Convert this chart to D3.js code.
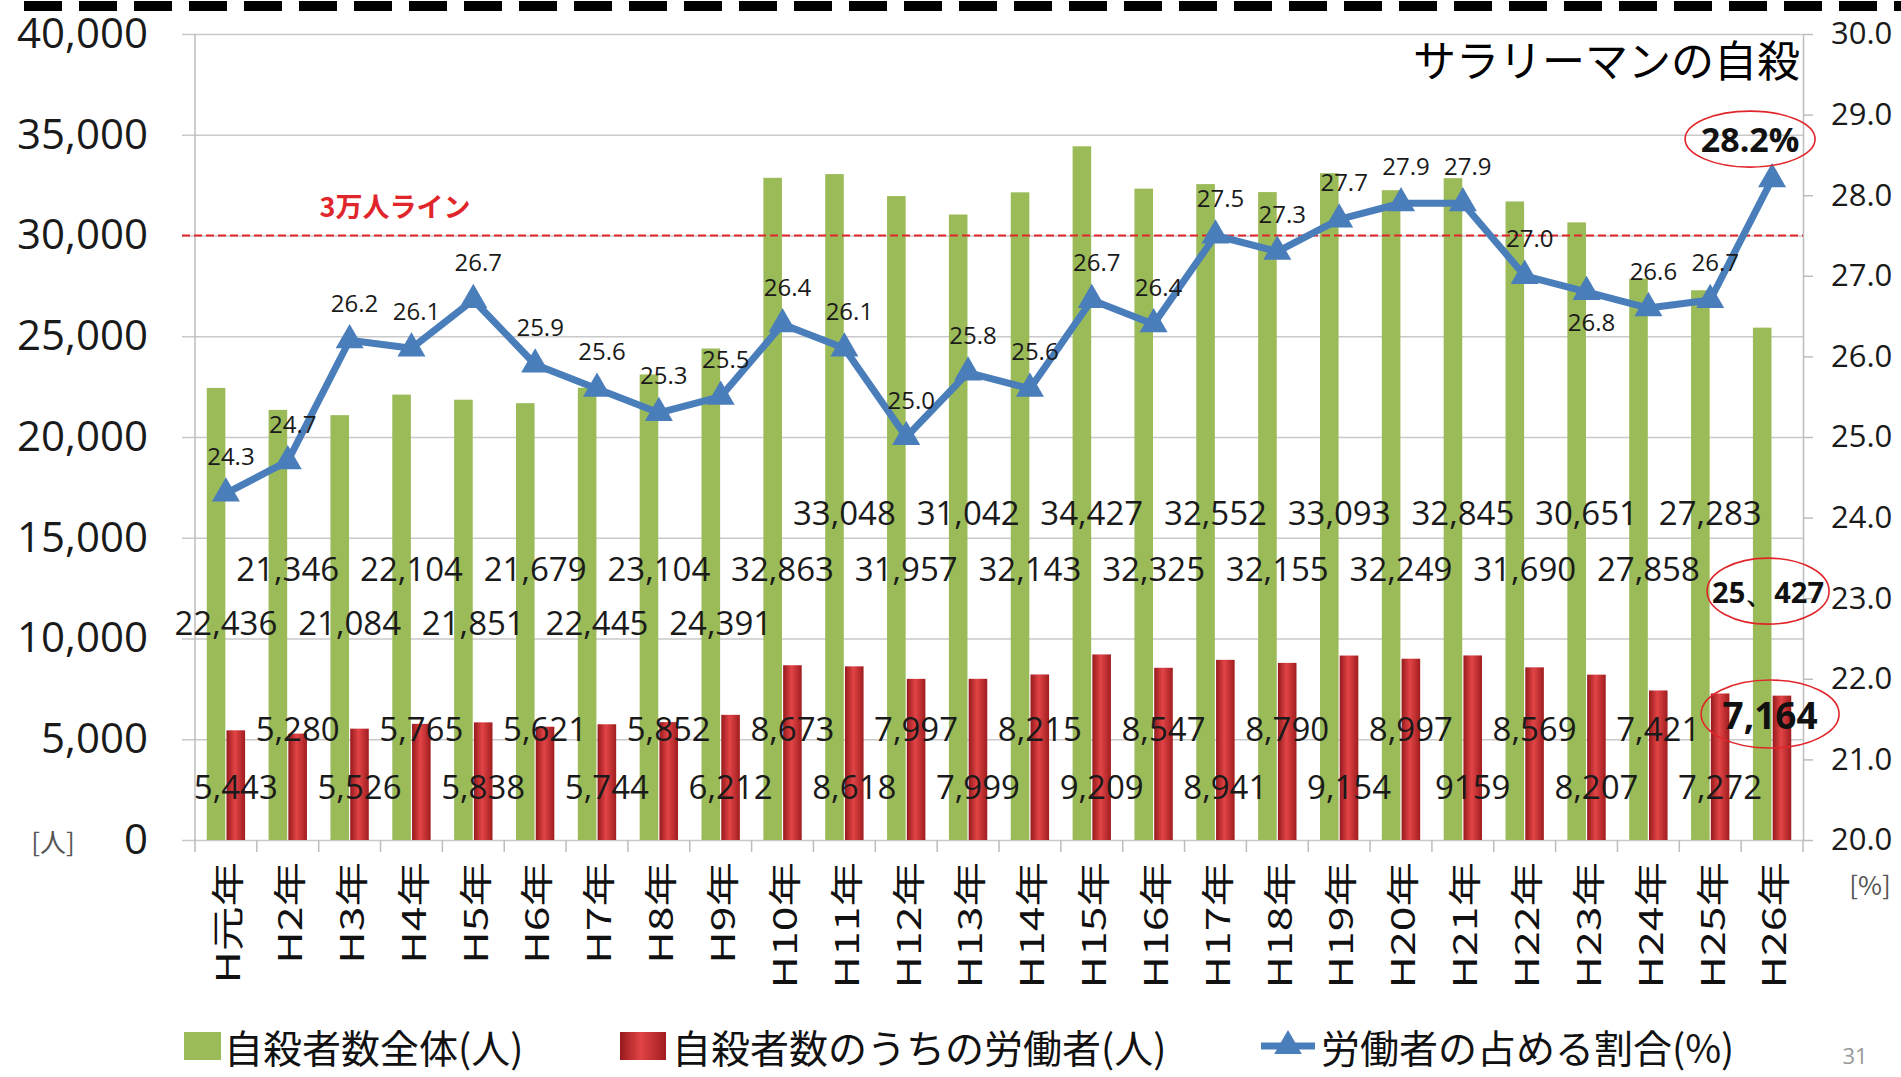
<!DOCTYPE html>
<html>
<head>
<meta charset="utf-8">
<script src="https://cdn.jsdelivr.net/npm/d3@7"></script>
<style>
  body { margin: 0; background: #fff; }
  svg { display: block; }
</style>
</head>
<body>
<svg id="chart" width="1901" height="1077"></svg>
<script>
// ---- data ----
const years = ['H元年','H2年','H3年','H4年','H5年','H6年','H7年','H8年','H9年','H10年','H11年','H12年','H13年',
  'H14年','H15年','H16年','H17年','H18年','H19年','H20年','H21年','H22年','H23年','H24年','H25年','H26年'];
const totalSuicides = [22436,21346,21084,22104,21851,21679,22445,23104,24391,32863,33048,31957,31042,
  32143,34427,32325,32552,32155,33093,32249,32845,31690,30651,27858,27283,25427];
const workerSuicides = [5443,5280,5526,5765,5838,5621,5744,5852,6212,8673,8618,7997,7999,
  8215,9209,8547,8941,8790,9154,8997,9159,8569,8207,7421,7272,7164];
const workerShare = [24.3,24.7,26.2,26.1,26.7,25.9,25.6,25.3,25.5,26.4,26.1,25.0,25.8,
  25.6,26.7,26.4,27.5,27.3,27.7,27.9,27.9,27.0,26.8,26.6,26.7,28.2];
const leftTicks = [0,5000,10000,15000,20000,25000,30000,35000,40000];
const rightTicks = [20,21,22,23,24,25,26,27,28,29,30];
const legendItems = ['自殺者数全体(人)','自殺者数のうちの労働者(人)','労働者の占める割合(%)'];
const lineOf30k = 30000;

const svg = d3.select('#chart');
const numFont = "'Open Sans', 'Liberation Sans', sans-serif";
const jpFont = "'Noto Sans CJK JP', 'Noto Sans', sans-serif";

const padLeft = 195, padRight = 1803, padTop = 34, padBottom = 840;
const green = '#9bbb59', blue = '#4a7ebb';

const x = d3.scaleBand().domain(years).range([padLeft, padRight]).paddingInner(0.38).paddingOuter(0.19);
const sub = d3.scaleBand().domain(['total','workers']).range([0, x.bandwidth()]).paddingInner(0.06);
const yL = d3.scaleLinear().domain([0, 40000]).range([padBottom, padTop]);
const yR = d3.scaleLinear().domain([20, 30]).range([padBottom, padTop]);
const cx = d => x(d) + x.bandwidth() / 2;
const fmt = d3.format(',');

// red bar cylinder shading
const defs = svg.append('defs');
const grad = defs.append('linearGradient').attr('id', 'redBar').attr('x1', 0).attr('x2', 1).attr('y1', 0).attr('y2', 0);
grad.selectAll('stop').data([['0%','#961a1c'],['45%','#e24446'],['100%','#a01d1f']])
  .join('stop').attr('offset', d => d[0]).attr('stop-color', d => d[1]);

// top dashed border
svg.append('line')
  .attr('x1', 24).attr('x2', 1901).attr('y1', 6).attr('y2', 6)
  .attr('stroke', '#000').attr('stroke-width', 10).attr('stroke-dasharray', '38 17');

// left axis + grid
let gridAxis = svg.append('g')
  .attr('transform', `translate(182,0)`)
  .call(d3.axisLeft(yL).tickValues(leftTicks).tickSize(-(padRight - 182)).tickPadding(34).tickFormat(fmt))
gridAxis.select('.domain').remove();
gridAxis.selectAll('line').attr('stroke', '#c9c9c9').attr('stroke-width', 1.5);
gridAxis.selectAll('text').attr('font-family', numFont).attr('font-size', 42).attr('fill', '#1a1a1a');

svg.append('line').attr('x1', padLeft).attr('x2', padLeft).attr('y1', padTop).attr('y2', padBottom)
  .attr('stroke', '#bdbdbd').attr('stroke-width', 1.5);

// right axis
let rAxis = svg.append('g')
  .attr('transform', `translate(${padRight},0)`)
  .call(d3.axisRight(yR).tickValues(rightTicks).tickSize(10).tickSizeOuter(0).tickPadding(18).tickFormat(d3.format('.1f')));
rAxis.select('.domain').attr('stroke', '#bdbdbd').attr('stroke-width', 1.5);
rAxis.selectAll('line').attr('stroke', '#bdbdbd').attr('stroke-width', 1.5);
rAxis.selectAll('text').attr('font-family', numFont).attr('font-size', 31).attr('fill', '#1a1a1a');

// bottom axis: ticks on band boundaries
const bounds = years.map(d => x(d) - x.step() * x.paddingInner() / 2).concat([padRight]);
svg.append('g').selectAll('line').data(bounds)
  .join('line')
  .attr('x1', d => d).attr('x2', d => d).attr('y1', padBottom).attr('y2', padBottom + 12)
  .attr('stroke', '#bdbdbd').attr('stroke-width', 1.5);

// category labels, rotated
svg.append('g').selectAll('text').data(years)
  .join('text')
  .attr('transform', d => `translate(${cx(d)},862) rotate(-90) scale(1.35,1)`)
  .attr('text-anchor', 'end')
  .attr('dominant-baseline', 'central')
  .attr('font-family', jpFont).attr('font-size', 33).attr('fill', '#111')
  .text(d => d);

// unit labels
svg.append('text').attr('x', 53).attr('y', padBottom).attr('text-anchor', 'middle').attr('dominant-baseline', 'central')
  .attr('font-family', jpFont).attr('font-size', 26).attr('fill', '#555').text('[人]');
svg.append('text').attr('x', 1870).attr('y', 883).attr('text-anchor', 'middle').attr('dominant-baseline', 'central')
  .attr('font-family', jpFont).attr('font-size', 26).attr('fill', '#555').text('[%]');

// bars
svg.append('g').selectAll('rect').data(years)
  .join('rect')
  .attr('x', d => x(d) + sub('total'))
  .attr('width', sub.bandwidth())
  .attr('y', (d, i) => yL(totalSuicides[i]))
  .attr('height', (d, i) => yL(0) - yL(totalSuicides[i]))
  .attr('fill', green);

svg.append('g').selectAll('rect').data(years)
  .join('rect')
  .attr('x', d => x(d) + sub('workers'))
  .attr('width', sub.bandwidth())
  .attr('y', (d, i) => yL(workerSuicides[i]))
  .attr('height', (d, i) => yL(0) - yL(workerSuicides[i]))
  .attr('fill', 'url(#redBar)');

// 30,000 line
svg.append('line')
  .attr('x1', 182).attr('x2', padRight).attr('y1', yL(lineOf30k)).attr('y2', yL(lineOf30k))
  .attr('stroke', '#e0262b').attr('stroke-width', 1.8).attr('stroke-dasharray', '8 4');
svg.append('text')
  .attr('x', 395).attr('y', yL(lineOf30k) - 30)
  .attr('text-anchor', 'middle').attr('dominant-baseline', 'central')
  .attr('font-family', jpFont).attr('font-size', 27).attr('font-weight', 'bold').attr('fill', '#e0262b')
  .text('3万人ライン');

// title
svg.append('text')
  .attr('x', 1800).attr('y', 58)
  .attr('text-anchor', 'end').attr('dominant-baseline', 'central')
  .attr('font-family', jpFont).attr('font-size', 43).attr('fill', '#000')
  .text('サラリーマンの自殺');

// value labels of the totals: staggered in three rows, as in the slide
const rowA = 10800, rowB = 13450, rowC = 16250;
const totalRow = i => i < 9 ? (i % 2 === 0 ? rowA : rowB) : (i % 2 === 1 ? rowB : rowC);
const last = years.length - 1;

svg.append('g').selectAll('text').data(years.slice(0, last))
  .join('text')
  .attr('x', d => cx(d))
  .attr('y', (d, i) => yL(totalRow(i)))
  .attr('text-anchor', 'middle').attr('dominant-baseline', 'central')
  .attr('font-family', numFont).attr('font-size', 33).attr('fill', '#1a1a1a')
  .text((d, i) => fmt(totalSuicides[i]));

// value labels of the workers: two rows
const workerText = workerSuicides.map(fmt);
workerText[20] = '9159'; // printed without comma on the slide
svg.append('g').selectAll('text').data(years.slice(0, last))
  .join('text')
  .attr('x', d => x(d) + sub('workers') + sub.bandwidth() / 2)
  .attr('y', (d, i) => yL(i % 2 === 0 ? 2650 : 5550))
  .attr('text-anchor', 'middle').attr('dominant-baseline', 'central')
  .attr('font-family', numFont).attr('font-size', 33).attr('fill', '#1a1a1a')
  .text((d, i) => workerText[i]);

// share line
const pts = years.map((d, i) => [cx(d), yR(workerShare[i])]);
svg.append('path')
  .attr('d', d3.line()(pts))
  .attr('fill', 'none').attr('stroke', blue).attr('stroke-width', 7).attr('stroke-linejoin', 'round');
svg.append('g').selectAll('path').data(pts)
  .join('path')
  .attr('transform', d => `translate(${d[0]},${d[1]})`)
  .attr('d', d3.symbol(d3.symbolTriangle, 340))
  .attr('fill', blue);

const belowLabel = ['H23年'];
svg.append('g').selectAll('text').data(years.slice(0, last))
  .join('text')
  .attr('x', d => cx(d) + 5)
  .attr('y', (d, i) => yR(workerShare[i]) + (belowLabel.includes(d) ? 30 : -38))
  .attr('text-anchor', 'middle').attr('dominant-baseline', 'central')
  .attr('font-family', numFont).attr('font-size', 24).attr('fill', '#1a1a1a')
  .text((d, i) => workerShare[i].toFixed(1));

// highlighted latest year (circled)
const lastYear = years[last];
const hi = [
  { text: workerShare[last].toFixed(1) + '%', x: cx(lastYear) - 22, y: yR(workerShare[last]) - 40, size: 34, rx: 65, ry: 28 },
  { text: fmt(totalSuicides[last]).replace(',', '、'), x: cx(lastYear) - 4, y: yL(12350), size: 29, rx: 61, ry: 33 },
  { text: fmt(workerSuicides[last]), x: cx(lastYear) - 2, y: yL(6250), size: 37, rx: 69, ry: 34 }
];
let hiG = svg.append('g').selectAll('g').data(hi).join('g')
  .attr('transform', d => `translate(${d.x},${d.y})`);
hiG.append('text')
  .attr('text-anchor', 'middle').attr('dominant-baseline', 'central')
  .attr('font-family', numFont).attr('font-weight', 'bold').attr('font-size', d => d.size).attr('fill', '#111')
  .text(d => d.text);
hiG.append('ellipse')
  .attr('rx', d => d.rx).attr('ry', d => d.ry)
  .attr('fill', 'none').attr('stroke', '#e0262b').attr('stroke-width', 1.6);

// legend
const legY = 1046;
const legX = [184, 620, 1261];
let leg = svg.append('g').selectAll('g').data(legendItems).join('g')
  .attr('transform', (d, i) => `translate(${legX[i]},${legY})`);
leg.filter((d, i) => i < 2).append('rect')
  .attr('x', 0).attr('y', -14).attr('width', (d, i) => i === 0 ? 37 : 46).attr('height', 28)
  .attr('fill', (d, i) => i === 0 ? green : 'url(#redBar)');
leg.filter((d, i) => i === 2).append('line')
  .attr('x1', 0).attr('x2', 54).attr('y1', 0).attr('y2', 0)
  .attr('stroke', blue).attr('stroke-width', 7);
leg.filter((d, i) => i === 2).append('path')
  .attr('transform', 'translate(27,0)')
  .attr('d', d3.symbol(d3.symbolTriangle, 330))
  .attr('fill', blue);
leg.append('text')
  .attr('x', (d, i) => i === 0 ? 40 : i === 1 ? 52 : 60)
  .attr('y', 0)
  .attr('dominant-baseline', 'central')
  .attr('font-family', jpFont).attr('font-size', 39).attr('fill', '#111')
  .text(d => d);

// page number
svg.append('text').attr('x', 1855).attr('y', 1064).attr('text-anchor', 'middle')
  .attr('font-family', numFont).attr('font-size', 22).attr('fill', '#999').text('31');
</script>
</body>
</html>
